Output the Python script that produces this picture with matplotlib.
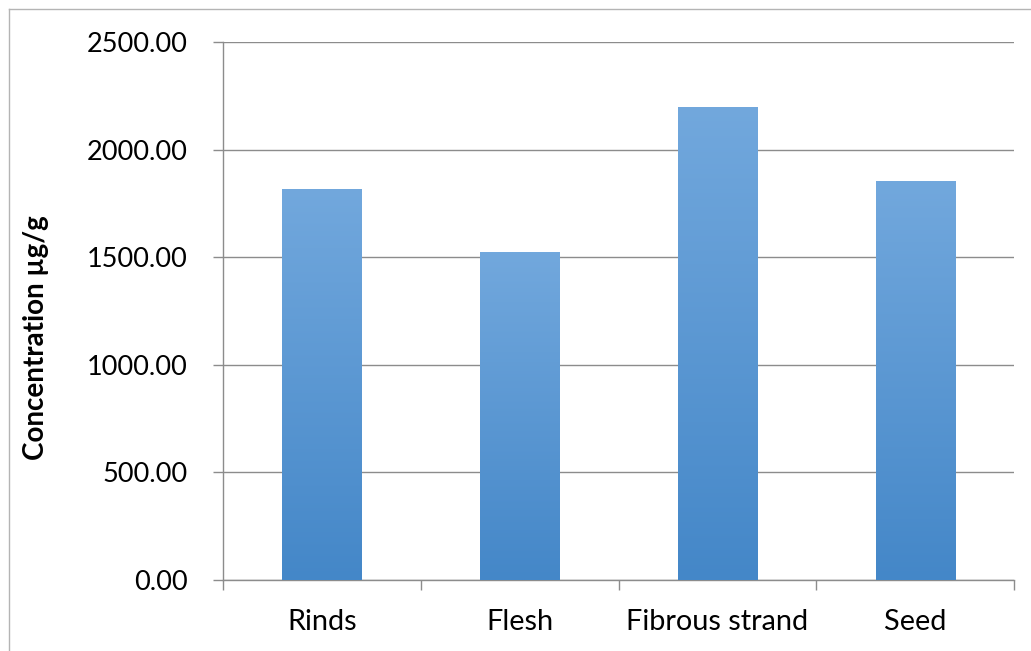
import matplotlib
matplotlib.use("Agg")
import matplotlib.pyplot as plt
import numpy as np
from matplotlib.colors import LinearSegmentedColormap
from matplotlib.lines import Line2D

categories = ["Rinds", "Flesh", "Fibrous strand", "Seed"]
values = [1817, 1524, 2198, 1854]
yticks = [0, 500, 1000, 1500, 2000, 2500]
ytick_labels = ["0.00", "500.00", "1000.00", "1500.00", "2000.00", "2500.00"]

plt.rcParams['font.family'] = ['Lato', 'DejaVu Sans']

W, H = 1031, 651
fig = plt.figure(figsize=(W / 100, H / 100), dpi=100)
ax = fig.add_axes([223 / W, 1 - 580 / H, (1014 - 223) / W, (580 - 42) / H])

x = np.arange(len(categories))
bars = ax.bar(x, values, width=0.4, color="#5b9bd5", zorder=2)

cmap = LinearSegmentedColormap.from_list("g", ["#4487c8", "#72a8dd"])
grad = np.linspace(0, 1, 256).reshape(-1, 1)
for b in bars:
    x0, y0 = b.get_x(), b.get_y()
    w, h = b.get_width(), b.get_height()
    im = ax.imshow(grad, cmap=cmap, origin="lower", aspect="auto",
                   extent=[x0, x0 + w, y0, y0 + h], zorder=3)
    im.set_clip_path(b)

ax.set_xlim(-0.5, len(categories) - 0.5)
ax.set_ylim(0, 2500)
ax.set_yticks(yticks)
ax.set_yticklabels(ytick_labels)
ax.set_xticks(x)
ax.set_xticklabels(categories)
ax.set_xticks(np.arange(len(categories) + 1) - 0.5, minor=True)

gc = "#8c8c8c"
ax.grid(axis="y", color=gc, linewidth=1.0, zorder=0)
ax.set_axisbelow(True)
for s in ["top", "right"]:
    ax.spines[s].set_visible(False)
for s in ["left", "bottom"]:
    ax.spines[s].set_color(gc)
    ax.spines[s].set_linewidth(1.0)

ax.tick_params(axis="y", which="major", length=7.2, color=gc, width=1.0,
               pad=18, labelsize=19.5, labelcolor="black")
ax.tick_params(axis="x", which="major", length=0, pad=21, labelsize=20.8,
               labelcolor="black")
ax.tick_params(axis="x", which="minor", length=7.2, color=gc, width=1.0)

ax.set_ylabel("Concentration µg/g", fontsize=20, fontweight="bold")
ax.yaxis.set_label_coords(-0.22, 0.45)

bc = "#b4b4b4"
fig.add_artist(Line2D([8.5 / W, 8.5 / W], [0, 1 - 8.5 / H], color=bc, linewidth=1.0,
                      transform=fig.transFigure))
fig.add_artist(Line2D([8.5 / W, 1], [1 - 8.5 / H, 1 - 8.5 / H], color=bc, linewidth=1.0,
                      transform=fig.transFigure))

fig.savefig("out.png", dpi=100)
